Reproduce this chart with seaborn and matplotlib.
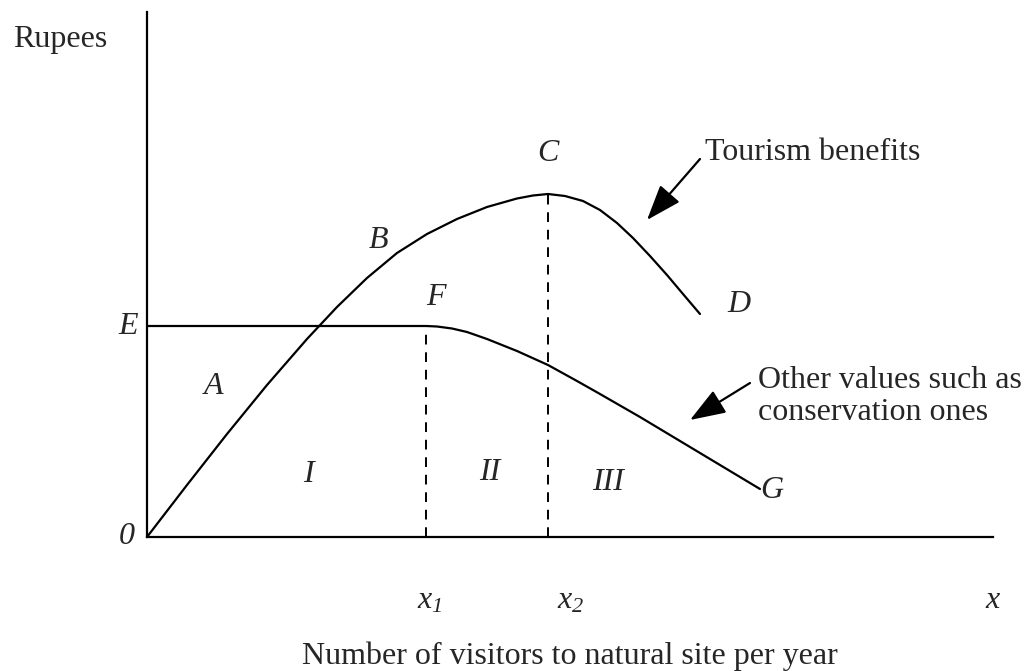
import numpy as np
import pandas as pd
import seaborn as sns
import matplotlib.pyplot as plt

sns.set_theme(style="white")
plt.rcParams['font.family'] = ['Liberation Serif', 'DejaVu Serif']
plt.rcParams['mathtext.fontset'] = 'custom'
plt.rcParams['mathtext.rm'] = 'Liberation Serif:italic'
plt.rcParams['mathtext.it'] = 'Liberation Serif:italic'

# curve points (x = visitors, y = rupees, arbitrary units)
tourism_x = [0, 40, 80, 120, 160, 190, 220, 250, 280, 310, 340, 370, 386,
             401, 418, 436, 453, 470, 486, 503, 520, 536, 553]
tourism_y = [0, 52, 103, 152, 198, 230, 259, 284, 303, 318, 330, 338.5, 341.5,
             343, 341, 336, 327, 314, 299, 281, 262, 243, 223]

other_x = [0, 279, 290, 305, 320, 340, 370, 401, 430, 453, 493, 543, 593, 613]
other_y = [211, 211, 210.5, 208.5, 205, 198, 186, 172, 156, 143, 120, 90, 60, 48]

x1, x2 = 279, 401
level_E = 211
peak_C = 343

tour = pd.DataFrame({'x': tourism_x, 'y': tourism_y})
other = pd.DataFrame({'x': other_x, 'y': other_y})

fig = plt.figure(figsize=(10.26, 6.71), dpi=100)
ax = fig.add_axes([147 / 1026, (671 - 537) / 671, (993 - 147) / 1026, (537 - 12) / 671])

sns.lineplot(data=tour, x='x', y='y', sort=False, color='black', lw=1.6, ax=ax)
sns.lineplot(data=other, x='x', y='y', sort=False, color='black', lw=1.6, ax=ax)

# dashed drop lines at x1 and x2
ax.plot([x1, x1], [0, level_E], color='black', lw=1.4, ls=(0, (5, 4)))
ax.plot([x2, x2], [0, peak_C], color='black', lw=1.4, ls=(0, (5, 4)))

ax.set_xlim(0, 846)
ax.set_ylim(0, 525)
ax.set_xticks([])
ax.set_yticks([])
ax.set_xlabel('')
ax.set_ylabel('')
for s in ['top', 'right']:
    ax.spines[s].set_visible(False)
for s in ['left', 'bottom']:
    ax.spines[s].set_color('black')
    ax.spines[s].set_linewidth(1.6)

fs = 23
it = dict(fontsize=fs, style='italic', ha='center', va='center', clip_on=False)

ax.text(-19, level_E, 'E', **it)
ax.text(-20, 0, '0', **it)
ax.text(66, 150, 'A', **it)
ax.text(231, 297, 'B', **it)
ax.text(401, 384, 'C', **it)
ax.text(289, 240, 'F', **it)
ax.text(592, 233, 'D', **it)
ax.text(161, 62, 'I', **it)
ax.text(343, 65, 'II', **it)
ax.text(461, 55, 'III', **it)
ax.text(625, 47, 'G', **it)
ax.text(283, -64, r'$x_1$', **it)
ax.text(424, -64, r'$x_2$', **it)
ax.text(846, -64, 'x', **it)

ax.text(-134, 490, 'Rupees', fontsize=fs, ha='left', va='baseline', clip_on=False)
ax.text(423, -127, 'Number of visitors to natural site per year', fontsize=fs,
        ha='center', va='baseline', clip_on=False)

ax.text(558, 377, 'Tourism benefits', fontsize=fs, ha='left', va='baseline')
ax.text(611, 149, 'Other values such as', fontsize=fs, ha='left', va='baseline',
        clip_on=False)
ax.text(611, 117, 'conservation ones', fontsize=fs, ha='left', va='baseline')

arrow = dict(arrowstyle='-|>,head_length=1.1,head_width=0.4', color='black',
             lw=1.6, shrinkA=0, shrinkB=0, mutation_scale=20)
ax.annotate('', xy=(500, 317), xytext=(553, 378), arrowprops=arrow)
ax.annotate('', xy=(543, 117), xytext=(603, 154), arrowprops=arrow)

fig.savefig('out.png', dpi=100, facecolor='white')
